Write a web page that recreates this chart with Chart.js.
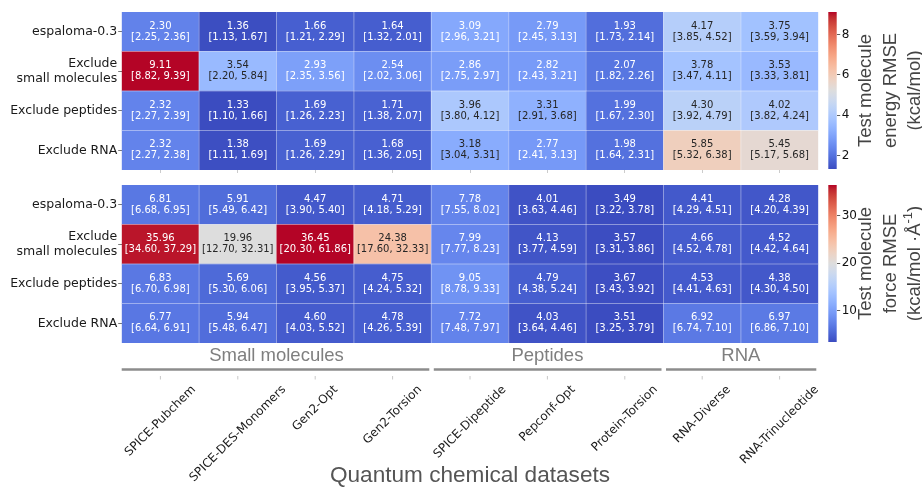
<!DOCTYPE html>
<html>
<head>
<meta charset="utf-8">
<script src="https://cdn.jsdelivr.net/npm/chart.js@4.4.1/dist/chart.umd.min.js"></script>
<style>
  html, body { margin: 0; padding: 0; background: #ffffff; }
  #wrap { position: relative; width: 922px; height: 491px; overflow: hidden; }
  canvas { position: absolute; }
</style>
</head>
<body>
<div id="wrap">
  <canvas id="energyMap" width="822" height="180" style="left:0;top:0"></canvas>
  <canvas id="forceMap" width="822" height="311" style="left:0;top:180px"></canvas>
  <canvas id="energyBar" width="100" height="180" style="left:822px;top:0"></canvas>
  <canvas id="forceBar" width="100" height="170" style="left:822px;top:180px"></canvas>
</div>
<script>
// Training variants (rows, top to bottom)
const models = ['espaloma-0.3', 'Exclude\nsmall molecules', 'Exclude peptides', 'Exclude RNA'];

// Benchmark datasets (columns) and their families
const datasetNames = ['SPICE-Pubchem', 'SPICE-DES-Monomers', 'Gen2-Opt', 'Gen2-Torsion',
  'SPICE-Dipeptide', 'Pepconf-Opt', 'Protein-Torsion', 'RNA-Diverse', 'RNA-Trinucleotide'];
const groupNames = ['Small molecules', 'Peptides', 'RNA'];
const groupSizes = [4, 3, 2];
const axisTitle = 'Quantum chemical datasets';

// Energy RMSE (kcal/mol) with 95% confidence intervals
const energyRmse = [
  [2.30, 1.36, 1.66, 1.64, 3.09, 2.79, 1.93, 4.17, 3.75],
  [9.11, 3.54, 2.93, 2.54, 2.86, 2.82, 2.07, 3.78, 3.53],
  [2.32, 1.33, 1.69, 1.71, 3.96, 3.31, 1.99, 4.30, 4.02],
  [2.32, 1.38, 1.69, 1.68, 3.18, 2.77, 1.98, 5.85, 5.45]
];
const energyLow = [
  [2.25, 1.13, 1.21, 1.32, 2.96, 2.45, 1.73, 3.85, 3.59],
  [8.82, 2.20, 2.35, 2.02, 2.75, 2.43, 1.82, 3.47, 3.33],
  [2.27, 1.10, 1.26, 1.38, 3.80, 2.91, 1.67, 3.92, 3.82],
  [2.27, 1.11, 1.26, 1.36, 3.04, 2.41, 1.64, 5.32, 5.17]
];
const energyHigh = [
  [2.36, 1.67, 2.29, 2.01, 3.21, 3.13, 2.14, 4.52, 3.94],
  [9.39, 5.84, 3.56, 3.06, 2.97, 3.21, 2.26, 4.11, 3.81],
  [2.39, 1.66, 2.23, 2.07, 4.12, 3.68, 2.30, 4.79, 4.24],
  [2.38, 1.69, 2.29, 2.05, 3.31, 3.13, 2.31, 6.38, 5.68]
];

// Force RMSE (kcal/mol/Å) with 95% confidence intervals
const forceRmse = [
  [6.81, 5.91, 4.47, 4.71, 7.78, 4.01, 3.49, 4.41, 4.28],
  [35.96, 19.96, 36.45, 24.38, 7.99, 4.13, 3.57, 4.66, 4.52],
  [6.83, 5.69, 4.56, 4.75, 9.05, 4.79, 3.67, 4.53, 4.38],
  [6.77, 5.94, 4.60, 4.78, 7.72, 4.03, 3.51, 6.92, 6.97]
];
const forceLow = [
  [6.68, 5.49, 3.90, 4.18, 7.55, 3.63, 3.22, 4.29, 4.20],
  [34.60, 12.70, 20.30, 17.60, 7.77, 3.77, 3.31, 4.52, 4.42],
  [6.70, 5.30, 3.95, 4.24, 8.78, 4.38, 3.43, 4.41, 4.30],
  [6.64, 5.48, 4.03, 4.26, 7.48, 3.64, 3.25, 6.74, 6.86]
];
const forceHigh = [
  [6.95, 6.42, 5.40, 5.29, 8.02, 4.46, 3.78, 4.51, 4.39],
  [37.29, 32.31, 61.86, 32.33, 8.23, 4.59, 3.86, 4.78, 4.64],
  [6.98, 6.06, 5.37, 5.32, 9.33, 5.24, 3.92, 4.63, 4.50],
  [6.91, 6.47, 5.52, 5.39, 7.97, 4.46, 3.79, 7.10, 7.10]
];

// Colour bar tick values and titles
const energyTicks = [2, 4, 6, 8];
const forceTicks = [10, 20, 30];
const energyTitle = [[['Test molecule']], [['energy RMSE']], [['(kcal/mol)']]];
const forceTitle = [[['Test molecule']], [['force RMSE']], [['(kcal/mol \u00B7\u00C5'], ['-1', true], [')']]];

// Diverging blue-white-red colour map
const COOLWARM = [
  [59,76,192],[68,90,204],[77,104,215],[87,117,225],[98,130,234],[108,142,241],
  [119,154,247],[130,165,251],[141,176,254],[152,185,255],[163,194,255],[174,201,253],
  [184,208,249],[194,213,244],[204,217,238],[213,219,230],[221,221,221],[229,216,209],
  [236,211,197],[241,204,184],[245,196,172],[247,187,159],[247,177,147],[247,166,134],
  [244,154,123],[241,141,111],[236,127,99],[229,112,89],[222,96,77],[213,80,66],
  [203,62,56],[192,40,47],[180,4,38]
];
function coolwarm(t) {
  t = Math.min(1, Math.max(0, t));
  const p = t * (COOLWARM.length - 1);
  const i = Math.min(Math.floor(p), COOLWARM.length - 2);
  const f = p - i;
  return COOLWARM[i].map((c, k) => c + (COOLWARM[i + 1][k] - c) * f);
}
const rgb = c => `rgb(${c.map(Math.round).join(',')})`;
function luminance(c) {
  const lin = c.map(v => { v /= 255; return v <= 0.03928 ? v / 12.92 : Math.pow((v + 0.055) / 1.055, 2.4); });
  return 0.2126 * lin[0] + 0.7152 * lin[1] + 0.0722 * lin[2];
}

const FONT_MONO = 'DejaVu Sans';
const FONT_SANS = 'Liberation Sans';

// Thin separators between cells
const cellGrid = {
  id: 'cellGrid',
  afterDatasetsDraw(chart) {
    const { ctx, chartArea: a, scales: { x, y } } = chart;
    ctx.save();
    ctx.strokeStyle = 'rgba(255,255,255,0.38)';
    ctx.lineWidth = 1;
    for (let i = 1; i < datasetNames.length; i++) {
      const px = (x.getPixelForValue(i - 1) + x.getPixelForValue(i)) / 2;
      ctx.beginPath(); ctx.moveTo(px, a.top); ctx.lineTo(px, a.bottom); ctx.stroke();
    }
    for (let r = 1; r < models.length; r++) {
      const py = y.getPixelForValue(r);
      ctx.beginPath(); ctx.moveTo(a.left, py); ctx.lineTo(a.right, py); ctx.stroke();
    }
    ctx.restore();
  }
};

// Value and interval annotations in each cell
const cellText = {
  id: 'cellText',
  afterDatasetsDraw(chart) {
    const ctx = chart.ctx;
    ctx.save();
    ctx.font = `10px "${FONT_MONO}"`;
    ctx.textAlign = 'center';
    ctx.textBaseline = 'middle';
    chart.data.datasets.forEach((ds, di) => {
      const meta = chart.getDatasetMeta(di);
      meta.data.forEach((bar, j) => {
        const cy = (bar.y + bar.base) / 2;
        ctx.fillStyle = ds.textColours[j];
        ctx.fillText(ds.mean[j].toFixed(2), bar.x, cy - 5.5);
        ctx.fillText(`[${ds.low[j].toFixed(2)}, ${ds.high[j].toFixed(2)}]`, bar.x, cy + 5.5);
      });
    });
    ctx.restore();
  }
};

// Dataset family captions, rotated dataset names and the axis title
const datasetAxis = {
  id: 'datasetAxis',
  afterDraw(chart) {
    const { ctx, chartArea: area, scales: { x } } = chart;
    const colW = x.getPixelForValue(1) - x.getPixelForValue(0);
    ctx.save();
    let first = 0;
    groupNames.forEach((name, k) => {
      const left = x.getPixelForValue(first) - colW / 2;
      const right = x.getPixelForValue(first + groupSizes[k] - 1) + colW / 2;
      ctx.font = `18.5px "${FONT_SANS}"`;
      ctx.fillStyle = '#7f7f7f';
      ctx.textAlign = 'center';
      ctx.textBaseline = 'alphabetic';
      ctx.fillText(name, (left + right) / 2, area.bottom + 18);
      ctx.strokeStyle = '#8c8c8c';
      ctx.lineWidth = 2.6;
      ctx.beginPath();
      ctx.moveTo(left + (k ? 2.5 : 0), area.bottom + 26.5);
      ctx.lineTo(right - 2, area.bottom + 26.5);
      ctx.stroke();
      first += groupSizes[k];
    });
    const fs = 12, c = Math.SQRT1_2, asc = 0.76 * fs, desc = 0.24 * fs;
    chart.data.labels.forEach((lab, i) => {
      const cx = x.getPixelForValue(i);
      ctx.strokeStyle = '#c8c8c8';
      ctx.lineWidth = 1;
      ctx.beginPath(); ctx.moveTo(cx, area.bottom + 33); ctx.lineTo(cx, area.bottom + 36.5); ctx.stroke();
      ctx.font = `${fs}px "${FONT_MONO}"`;
      const L = ctx.measureText(lab).width;
      const ox = cx - c * (L + desc - asc) / 2;
      const oy = area.bottom + 40.5 + c * (L + asc);
      ctx.save();
      ctx.translate(ox, oy);
      ctx.rotate(-Math.PI / 4);
      ctx.fillStyle = '#1a1a1a';
      ctx.textAlign = 'left';
      ctx.textBaseline = 'alphabetic';
      ctx.fillText(lab, 0, 0);
      ctx.restore();
    });
    ctx.font = `22.6px "${FONT_SANS}"`;
    ctx.fillStyle = '#555555';
    ctx.textAlign = 'center';
    ctx.textBaseline = 'alphabetic';
    ctx.fillText(axisTitle, (area.left + area.right) / 2, area.bottom + 138.5);
    ctx.restore();
  }
};

function heatmap(id, mean, low, high, padTop, xHeight, withAxis) {
  const all = mean.flat();
  const vmin = Math.min(...all), vmax = Math.max(...all);
  const order = models.map((_, r) => r).reverse(); // stacked bottom-up
  const datasets = order.map(r => {
    const cols = mean[r].map(v => coolwarm((v - vmin) / (vmax - vmin)));
    return {
      label: models[r],
      data: datasetNames.map(() => 1),
      mean: mean[r], low: low[r], high: high[r],
      backgroundColor: cols.map(rgb),
      textColours: cols.map(c => luminance(c) > 0.408 ? '#262626' : '#ffffff'),
      borderWidth: 0,
      barPercentage: 1,
      categoryPercentage: 1
    };
  });
  return new Chart(document.getElementById(id), {
    type: 'bar',
    data: { labels: datasetNames, datasets },
    options: {
      responsive: false, animation: false, devicePixelRatio: 1, events: [],
      layout: { padding: { left: 0, right: 3.7, top: padTop, bottom: 0 } },
      plugins: { legend: { display: false }, tooltip: { enabled: false } },
      scales: {
        x: {
          stacked: true,
          afterFit: s => { s.height = xHeight; s.paddingLeft = 0; s.paddingRight = 0; },
          ticks: { display: false },
          grid: withAxis
            ? { display: false }
            : { offset: false, drawOnChartArea: false, drawTicks: true, tickLength: 3, color: '#cccccc' },
          border: { display: false }
        },
        y: {
          stacked: true, min: 0, max: models.length,
          afterBuildTicks: ax => { ax.ticks = models.map((_, r) => ({ value: r + 0.5 })); },
          afterFit: s => { s.width = 121.7; s.paddingTop = 0; s.paddingBottom = 0; },
          ticks: {
            callback: v => models[models.length - 1 - Math.floor(v)].split('\n'),
            font: { family: FONT_MONO, size: 12.5, lineHeight: 1.15 },
            color: '#1a1a1a',
            padding: 1
          },
          grid: { drawOnChartArea: false, drawTicks: true, tickLength: 3.5, color: '#555555', lineWidth: 0.8 },
          border: { display: false }
        }
      }
    },
    plugins: withAxis ? [cellGrid, cellText, datasetAxis] : [cellGrid, cellText]
  });
}

// Rotated multi-line colour bar title
const cbarTitle = {
  id: 'cbarTitle',
  afterDraw(chart, args, opts) {
    const { ctx, chartArea: a } = chart;
    const cy = (a.top + a.bottom) / 2;
    const fs = 18.5;
    ctx.save();
    ctx.fillStyle = '#444444';
    ctx.textBaseline = 'middle';
    ctx.textAlign = 'left';
    opts.lines.forEach((segs, i) => {
      const widths = segs.map(([t, sup]) => {
        ctx.font = `${sup ? fs * 0.7 : fs}px "${FONT_SANS}"`;
        return ctx.measureText(t).width;
      });
      const total = widths.reduce((s, w) => s + w, 0);
      ctx.save();
      ctx.translate(opts.x0 + i * opts.dx, cy);
      ctx.rotate(-Math.PI / 2);
      let px = -total / 2;
      segs.forEach(([t, sup], k) => {
        ctx.font = `${sup ? fs * 0.7 : fs}px "${FONT_SANS}"`;
        ctx.fillText(t, px, sup ? -fs * 0.36 : 0);
        px += widths[k];
      });
      ctx.restore();
    });
    ctx.restore();
  }
};

function colourBar(id, values, tickValues, title, padTop, padBottom) {
  const all = values.flat();
  const vmin = Math.min(...all), vmax = Math.max(...all);
  return new Chart(document.getElementById(id), {
    type: 'bar',
    data: {
      labels: ['scale'],
      datasets: [{
        data: [[vmin, vmax]],
        backgroundColor: c => {
          const a = c.chart.chartArea;
          if (!a) return rgb(coolwarm(0.5));
          const g = c.chart.ctx.createLinearGradient(0, a.bottom, 0, a.top);
          COOLWARM.forEach((col, k) => g.addColorStop(k / (COOLWARM.length - 1), rgb(col)));
          return g;
        },
        borderWidth: 0,
        barPercentage: 1,
        categoryPercentage: 1
      }]
    },
    options: {
      responsive: false, animation: false, devicePixelRatio: 1, events: [],
      layout: { padding: { left: 6.3, right: 0, top: padTop, bottom: padBottom } },
      plugins: {
        legend: { display: false }, tooltip: { enabled: false },
        cbarTitle: { lines: title, x0: 44, dx: 24.5 }
      },
      scales: {
        x: { display: false },
        y: {
          position: 'right', min: vmin, max: vmax,
          afterBuildTicks: ax => { ax.ticks = tickValues.map(v => ({ value: v })); },
          afterFit: s => { s.width = 85.3; s.paddingTop = 0; s.paddingBottom = 0; },
          ticks: { font: { family: FONT_MONO, size: 12 }, color: '#111111', padding: 1.5 },
          grid: { drawOnChartArea: false, drawTicks: true, tickLength: 3.5, color: '#333333', lineWidth: 0.8 },
          border: { display: false }
        }
      }
    },
    plugins: [cbarTitle]
  });
}

heatmap('energyMap', energyRmse, energyLow, energyHigh, 12, 10, false);
heatmap('forceMap', forceRmse, forceLow, forceHigh, 5, 148, true);
colourBar('energyBar', energyRmse, energyTicks, energyTitle, 12, 11);
colourBar('forceBar', forceRmse, forceTicks, forceTitle, 5, 8);
</script>
</body>
</html>
